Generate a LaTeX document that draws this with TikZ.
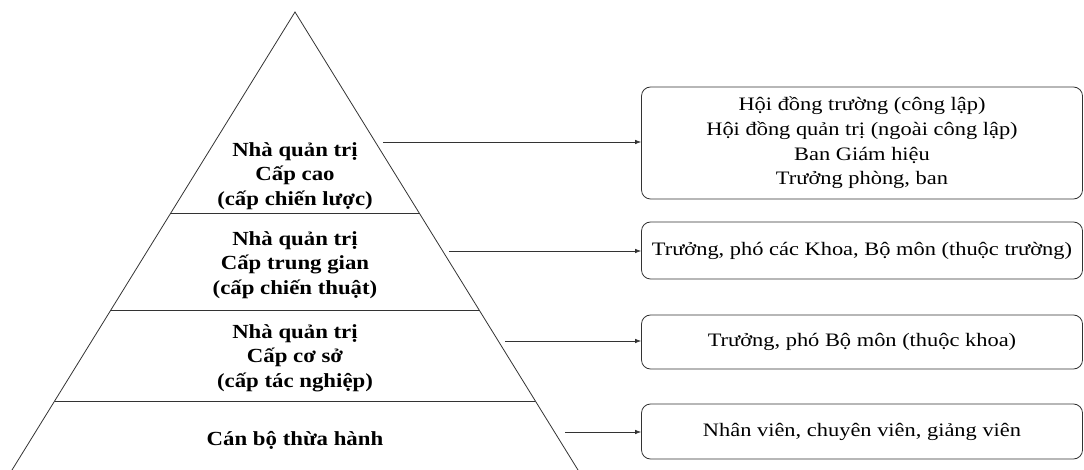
\documentclass[tikz,border=0pt]{standalone}
\usepackage{fontspec}
\setmainfont[FakeStretch=1.18,BoldFeatures={FakeStretch=1.14}]{Liberation Serif}
\usetikzlibrary{arrows.meta}
\begin{document}
\begin{tikzpicture}[x=1pt,y=-1pt,
  edge/.style={draw=black!80, line width=0.8pt},
  lbl/.style={align=center, font=\bfseries\fontsize{20}{24.5}\selectfont, inner sep=0pt},
  box/.style={draw=black!80, line width=0.8pt, rounded corners=9pt, align=center,
    minimum width=441pt, font=\fontsize{19}{24.7}\selectfont, inner sep=0pt},
  arr/.style={draw=black!80, line width=0.7pt, -{Latex[length=6pt,width=4.5pt]}}]
\useasboundingbox (0,0) rectangle (1084,470);
\coordinate (apex) at (295,12);
\coordinate (bl) at (12,470);
\coordinate (br) at (578,470);
\draw[edge] (bl) -- (apex) -- (br);
\coordinate (d1l) at (171,213); \coordinate (d1r) at (419,213);
\coordinate (d2l) at (111,310); \coordinate (d2r) at (479,310);
\coordinate (d3l) at (55,401);  \coordinate (d3r) at (535,401);
\draw[edge] (d1l) -- (d1r);
\draw[edge] (d2l) -- (d2r);
\draw[edge] (d3l) -- (d3r);
\node[lbl] (l1) at (295,176) {Nhà quản trị\\Cấp cao\\(cấp chiến lược)};
\node[lbl] (l2) at (295,265) {Nhà quản trị\\Cấp trung gian\\(cấp chiến thuật)};
\node[lbl] (l3) at (295,358) {Nhà quản trị\\Cấp cơ sở\\(cấp tác nghiệp)};
\node[lbl] (l4) at (295,440) {Cán bộ thừa hành};
\node[box, minimum height=112pt] (b1) at (862,143) {Hội đồng trường (công lập)\\Hội đồng quản trị (ngoài công lập)\\Ban Giám hiệu\\Trưởng phòng, ban};
\node[box, minimum height=57pt] (b2) at (862,250.5) {Trưởng, phó các Khoa, Bộ môn (thuộc trường)};
\node[box, minimum height=54pt] (b3) at (862,342) {Trưởng, phó Bộ môn (thuộc khoa)};
\node[box, minimum height=55pt] (b4) at (862,431.5) {Nhân viên, chuyên viên, giảng viên};
\coordinate (s1) at (383,142);
\coordinate (s2) at (449,251);
\coordinate (s3) at (505,341);
\coordinate (s4) at (565,432);
\draw[arr] (s1) -- (s1 -| b1.west);
\draw[arr] (s2) -- (s2 -| b2.west);
\draw[arr] (s3) -- (s3 -| b3.west);
\draw[arr] (s4) -- (s4 -| b4.west);
\end{tikzpicture}
\end{document}
